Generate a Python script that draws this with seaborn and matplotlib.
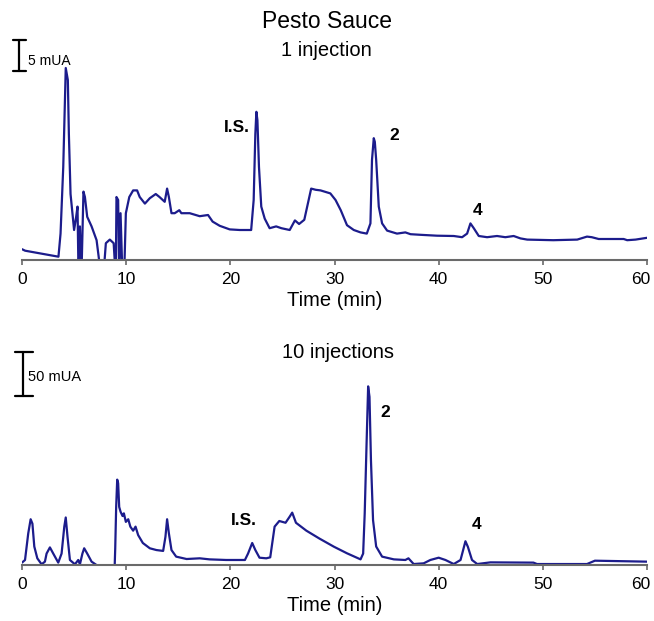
import matplotlib
matplotlib.use("Agg")
import matplotlib.pyplot as plt
import matplotlib.transforms as mtransforms
import seaborn as sns
import pandas as pd

# ---- data: 1 injection (time in min, signal in mAU) ----
t1 = [0, 0.3, 3.5, 3.7, 3.96, 4.2, 4.4, 4.5, 4.66, 5.0, 5.2, 5.33, 5.43, 5.56, 5.7,
      5.9, 6.04, 6.26, 6.68, 7.16, 7.4, 7.6, 7.8, 8.05, 8.43, 8.8, 9.0, 9.07, 9.23, 9.33,
      9.46, 9.65, 9.8, 9.97, 10.3, 10.67, 11.05, 11.3, 11.8, 12.27, 12.84, 13.2, 13.7,
      13.93, 14.1, 14.35, 14.66, 15.1, 15.3, 16.1, 17.06, 17.86, 18.3, 18.98, 19.94,
      20.9, 22.0, 22.24, 22.4, 22.5, 22.6, 22.75, 22.97, 23.3, 23.77, 24.4, 24.9, 25.7,
      26.2, 26.6, 27.1, 27.76, 28.2, 28.66, 29.6, 30.1, 30.6, 31.2, 31.85, 32.5, 33.1,
      33.45, 33.6, 33.77, 33.87, 34.0, 34.25, 34.57, 35.05, 36.0, 36.8, 37.3, 38.25,
      39.85, 41.45, 42.25, 42.73, 43.05, 43.37, 43.85, 44.65, 45.6, 46.4, 47.2, 47.85,
      48.5, 51.0, 53.3, 54.24, 54.7, 55.36, 57.76, 58.1, 58.9, 60]
s1 = [1.8, 1.55, 0.55, 4.4, 15.5, 32, 30, 21, 11, 5, 7.2, 8.9, -3, 5.6, -3,
      11.4, 10.5, 7.2, 5.6, 3.3, 0, -3, -3, 2.8, 3.4, 2.8, -3, 10.5, 10, -3,
      7.8, -3, -3, 7.8, 10.5, 11.6, 11.6, 10.5, 9.4, 10.3, 11, 10.5, 9.7,
      11.9, 10.5, 7.8, 7.8, 8.3, 7.8, 7.8, 7.3, 7.5, 6.4, 5.7, 5.1,
      5.0, 5.0, 10, 21, 24.7, 23.3, 15.5, 8.9, 6.9, 5.3, 5.6, 5.3, 5.0,
      6.6, 6.0, 6.7, 11.9, 11.7, 11.6, 11.1, 10, 8.3, 5.8, 5.0, 4.6, 4.4,
      6.1, 16.7, 20.3, 19.7, 16.7, 8.9, 6.1, 4.9, 4.4, 4.6, 4.3, 4.2,
      4.05, 4.0, 3.8, 4.4, 6.1, 5.3, 4.0, 3.8, 4.0, 3.8, 4.0, 3.6,
      3.4, 3.3, 3.4, 3.9, 3.8, 3.5, 3.5, 3.3, 3.4, 3.7]

# ---- data: 10 injections ----
t10 = [0, 0.29, 0.6, 0.83, 1.0, 1.18, 1.47, 1.88, 2.2, 2.36, 2.68, 3.0, 3.48, 3.8,
       4.06, 4.2, 4.37, 4.6, 5.08, 5.4, 5.56, 5.8, 5.97, 6.26, 6.68, 7.15, 7.4, 8.7,
       8.9, 8.95, 9.04, 9.14, 9.23, 9.33, 9.46, 9.65, 9.78, 9.97, 10.2, 10.4, 10.67,
       10.9, 11.15, 11.6, 12.27, 12.9, 13.55, 13.77, 13.93, 14.1, 14.35, 14.8, 15.8,
       17.06, 18.0, 19.6, 21.4, 21.7, 22.1, 22.4, 22.8, 23.45, 23.83, 24.25, 24.7,
       25.3, 25.7, 25.94, 26.3, 27.3, 28.56, 29.94, 31.2, 32.5, 32.75, 32.9, 33.07,
       33.23, 33.36, 33.5, 33.7, 34.0, 34.57, 35.7, 36.8, 37.1, 37.6, 38.56, 39.2,
       40.0, 40.65, 41.45, 42.1, 42.35, 42.57, 42.8, 43.2, 43.7, 44.97, 49.1, 49.44,
       54.24, 55.0, 60]
s10 = [2.7, 5.7, 36, 52, 47, 21, 7.6, 0.8, 3.8, 13, 20, 13, 2.7, 13,
       43.6, 54, 32, 5.7, 0.8, 5.7, 0.8, 13, 19, 13, 3.8, 0, -20, -20,
       0, 19, 66, 97, 93, 66, 60.6, 55.7, 58.7, 49, 52, 43.6, 39,
       43.6, 34, 25, 19, 17, 16, 32, 52, 36, 17, 9.5, 6.8,
       7.6, 6.4, 5.7, 5.7, 13, 25, 17, 8.3, 7.6, 8.7, 43.6, 50,
       48, 55, 59.5, 48, 39, 30, 20.8, 13.3, 6.4, 13, 58.7, 134,
       203, 191, 119, 51, 21, 9.5, 6.4, 5.7, 7.6, 1.1, 1.9, 5.7,
       8.3, 5.7, 1.1, 5.7, 17, 27, 20.8, 5.7, 1.1, 3.0, 2.7, 1.1,
       1.1, 4.9, 3.8]

xticks = [0, 10, 20, 30, 40, 50, 60]
xlabel = "Time (min)"
title = "Pesto Sauce"
subtitles = ["1 injection", "10 injections"]
scale_labels = ["5 mUA", "50 mUA"]
scale_sizes = [5, 50]
peak_labels = ["I.S.", "2", "4"]
peak_pos_top = [(20.6, 22.0), (35.7, 20.8), (43.7, 8.3)]
peak_pos_bot = [(21.3, 51.0), (34.9, 173.0), (43.6, 45.5)]

sns.set_style("white")
plt.rcParams["font.family"] = ["Liberation Sans", "DejaVu Sans"]
plt.rcParams["text.color"] = "black"
plt.rcParams["axes.labelcolor"] = "black"

W, H = 654, 621
fig = plt.figure(figsize=(W / 100, H / 100), dpi=100)
color = "#1c1c8c"

def px_axes(left, top, right, bottom):
    return fig.add_axes([left / W, 1 - bottom / H, (right - left) / W, (bottom - top) / H])

ax1 = px_axes(22, 40, 647, 260)
ax2 = px_axes(22, 345, 647, 565)

df1 = pd.DataFrame({"t": t1, "s": s1})
df2 = pd.DataFrame({"t": t10, "s": s10})
sns.lineplot(data=df1, x="t", y="s", ax=ax1, color=color, lw=1.6, sort=False, estimator=None)
sns.lineplot(data=df2, x="t", y="s", ax=ax2, color=color, lw=1.6, sort=False, estimator=None)

ax1.set_ylim(0, 220 / 6)
ax2.set_ylim(0, 250)

for ax in (ax1, ax2):
    ax.set_xlim(0, 60)
    ax.set_xticks(xticks)
    ax.set_xticklabels([str(v) for v in xticks], fontsize=12.5, color="black")
    ax.set_yticks([])
    ax.set_ylabel("")
    ax.set_xlabel(xlabel, fontsize=14.5, labelpad=3, color="black")
    for sp in ("top", "left", "right"):
        ax.spines[sp].set_visible(False)
    ax.spines["bottom"].set_color("#6a6a6a")
    ax.spines["bottom"].set_linewidth(1.5)
    ax.tick_params(axis="x", direction="out", length=3.5, width=1.2, color="#6a6a6a",
                   labelcolor="black", pad=5, bottom=True)
    # nudge the last label so it stays inside the figure
    last = ax.get_xticklabels()[-1]
    last.set_transform(last.get_transform() +
                       mtransforms.ScaledTranslation(-6 / 100, 0, fig.dpi_scale_trans))

# scale bars
def scale_bar(ax, x, x0, x1, y0, y1, label, ly, fs):
    kw = dict(color="black", lw=1.6, clip_on=False)
    ax.plot([x, x], [y0, y1], **kw)
    ax.plot([x0, x1], [y0, y0], **kw)
    ax.plot([x0, x1], [y1, y1], **kw)
    ax.text(0.58, ly, label, fontsize=fs, va="center", ha="left", clip_on=False)

scale_bar(ax1, -0.29, -0.86, 0.38, 31.5, 31.5 + scale_sizes[0] * 1.03, scale_labels[0], 33.2, 10)
scale_bar(ax2, 0.07, -0.67, 1.06, 192, 192 + scale_sizes[1] * 1.0, scale_labels[1], 213.6, 10.5)

for lab, (x, y) in zip(peak_labels, peak_pos_top):
    ax1.text(x, y, lab, fontsize=12.5, fontweight="bold", ha="center", va="center")
for lab, (x, y) in zip(peak_labels, peak_pos_bot):
    ax2.text(x, y, lab, fontsize=12.5, fontweight="bold", ha="center", va="center")

fig.text(327 / W, 1 - 22 / H, title, fontsize=16.5, ha="center", va="center")
fig.text(326 / W, 1 - 50 / H, subtitles[0], fontsize=14.5, ha="center", va="center")
fig.text(337.5 / W, 1 - 353 / H, subtitles[1], fontsize=14.5, ha="center", va="center")

fig.savefig("out.png", dpi=100)
